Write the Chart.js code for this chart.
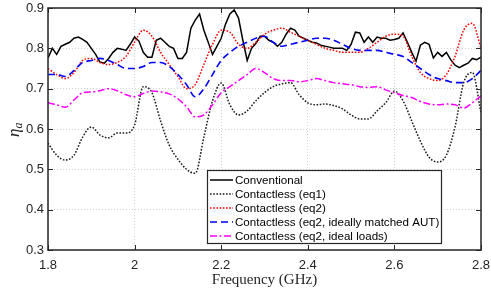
<!DOCTYPE html>
<html><head><meta charset="utf-8">
<script src="https://cdn.jsdelivr.net/npm/chart.js@4.4.1/dist/chart.umd.min.js"></script>
<style>html,body{margin:0;padding:0;background:#fff;}#wrap{width:491px;height:289px;}</style>
</head><body><div id="wrap"><canvas id="c" width="491" height="289"></canvas></div>
<script>
const freqFine = [1.80,1.81,1.82,1.83,1.84,1.85,1.86,1.87,1.88,1.89,1.90,1.91,1.92,1.93,1.94,1.95,1.96,1.97,1.98,1.99,
2.00,2.01,2.02,2.03,2.04,2.05,2.06,2.07,2.08,2.09,2.10,2.11,2.12,2.13,2.14,2.15,2.16,2.17,2.18,2.19,
2.20,2.21,2.22,2.23,2.24,2.25,2.26,2.27,2.28,2.29,2.30,2.31,2.32,2.33,2.34,2.35,2.36,2.37,2.38,2.39,
2.40,2.41,2.42,2.43,2.44,2.45,2.46,2.47,2.48,2.49,2.50,2.51,2.52,2.53,2.54,2.55,2.56,2.57,2.58,2.59,
2.60,2.61,2.62,2.63,2.64,2.65,2.66,2.67,2.68,2.69,2.70,2.71,2.72,2.73,2.74,2.75,2.76,2.77,2.78,2.79,2.80];
const freqCoarse = [1.80,1.82,1.84,1.86,1.88,1.90,1.92,1.94,1.96,1.98,2.00,2.02,2.04,2.06,2.08,2.10,2.12,2.14,2.16,2.18,
2.20,2.22,2.24,2.26,2.28,2.30,2.32,2.34,2.36,2.38,2.40,2.42,2.44,2.46,2.48,2.50,2.52,2.54,2.56,2.58,
2.60,2.62,2.64,2.66,2.68,2.70,2.72,2.74,2.76,2.78,2.80];

const conventional = [0.776,0.80,0.785,0.805,0.81,0.815,0.825,0.828,0.822,0.815,
0.80,0.785,0.766,0.763,0.775,0.79,0.80,0.798,0.795,0.81,
0.828,0.818,0.79,0.778,0.778,0.82,0.825,0.815,0.805,0.80,
0.775,0.775,0.79,0.85,0.87,0.885,0.845,0.815,0.785,0.805,
0.825,0.86,0.885,0.895,0.875,0.82,0.77,0.80,0.812,0.83,
0.83,0.82,0.815,0.805,0.815,0.835,0.85,0.845,0.83,0.825,
0.82,0.815,0.813,0.808,0.805,0.803,0.80,0.80,0.80,0.795,
0.81,0.84,0.838,0.815,0.828,0.815,0.828,0.825,0.825,0.82,
0.822,0.825,0.838,0.815,0.79,0.768,0.808,0.815,0.81,0.776,
0.79,0.78,0.79,0.772,0.758,0.752,0.758,0.763,0.775,0.772,0.778];

const contactlessEq1 = [0.565,0.535,0.523,0.535,0.58,0.605,0.585,0.578,0.59,0.59,
0.61,0.705,0.69,0.62,0.56,0.525,0.50,0.49,0.58,0.67,
0.714,0.66,0.635,0.645,0.67,0.69,0.705,0.712,0.715,0.685,
0.665,0.66,0.662,0.658,0.65,0.635,0.625,0.625,0.645,0.665,
0.694,0.67,0.62,0.57,0.53,0.518,0.535,0.605,0.715,0.74,0.64];

const contactlessEq2 = [0.75,0.735,0.725,0.74,0.77,0.775,0.765,0.76,0.765,0.78,
0.815,0.845,0.83,0.79,0.76,0.73,0.70,0.71,0.76,0.81,
0.845,0.84,0.81,0.80,0.815,0.835,0.845,0.85,0.84,0.83,
0.82,0.81,0.80,0.795,0.79,0.79,0.79,0.80,0.815,0.83,
0.835,0.83,0.78,0.74,0.725,0.72,0.735,0.78,0.845,0.862,0.80];

const contactlessMatched = [0.735,0.735,0.73,0.745,0.765,0.77,0.775,0.77,0.76,0.75,
0.75,0.755,0.765,0.765,0.755,0.735,0.71,0.68,0.70,0.735,
0.77,0.79,0.805,0.815,0.825,0.83,0.815,0.805,0.81,0.815,
0.82,0.825,0.825,0.82,0.81,0.80,0.795,0.795,0.795,0.79,
0.785,0.78,0.765,0.75,0.735,0.725,0.72,0.715,0.715,0.725,0.745];

const contactlessIdealLoads = [0.665,0.66,0.654,0.672,0.69,0.692,0.695,0.70,0.695,0.685,
0.68,0.688,0.694,0.692,0.687,0.675,0.655,0.63,0.635,0.66,
0.69,0.705,0.72,0.735,0.75,0.74,0.725,0.72,0.72,0.717,
0.72,0.725,0.72,0.715,0.712,0.71,0.705,0.703,0.705,0.697,
0.69,0.683,0.678,0.668,0.662,0.66,0.662,0.66,0.652,0.665,0.682];

const xTicks = [1.8,2.0,2.2,2.4,2.6,2.8];
const yTicks = [0.3,0.4,0.5,0.6,0.7,0.8,0.9];
const seriesNames = ['Conventional','Contactless (eq1)','Contactless (eq2)','Contactless (eq2, ideally matched AUT)','Contactless (eq2, ideal loads)'];
const xTitle = 'Frequency (GHz)';

function pts(xs, ys){ return xs.map((x,i)=>({x:x,y:ys[i]})); }

const styles = [
  {color:'#000000', dash:[], width:1.5},
  {color:'#1a1a1a', dash:[1.6,1.6], width:1.5},
  {color:'#ff0000', dash:[1.6,1.6], width:1.5},
  {color:'#0000ff', dash:[7,4], width:1.6},
  {color:'#ff00ff', dash:[7,2.5,2,2.5], width:1.5}
];
const seriesData = [
  pts(freqFine, conventional),
  pts(freqCoarse, contactlessEq1),
  pts(freqCoarse, contactlessEq2),
  pts(freqCoarse, contactlessMatched),
  pts(freqCoarse, contactlessIdealLoads)
];

const datasets = seriesData.map((d,i)=>({
  label: seriesNames[i],
  data: d,
  borderColor: styles[i].color,
  borderWidth: styles[i].width,
  borderDash: styles[i].dash,
  pointRadius: 0,
  fill: false,
  tension: i===0 ? 0 : 0.4,
  cubicInterpolationMode: i===0 ? 'default' : 'monotone',
  order: 5-i
}));

const axisColor = '#262626';

const framePlugin = {
  id:'frame',
  afterDraw(chart){
    const ctx = chart.ctx, a = chart.chartArea;
    const xs = chart.scales.x, ys = chart.scales.y;
    ctx.save();
    ctx.strokeStyle = axisColor;
    ctx.lineWidth = 1.5;
    ctx.setLineDash([]);
    ctx.strokeRect(a.left, a.top, a.right-a.left, a.bottom-a.top);
    ctx.lineWidth = 1;
    const tl = 5;
    ctx.beginPath();
    xTicks.forEach(v=>{
      const px = Math.round(xs.getPixelForValue(v))+0.5;
      ctx.moveTo(px, a.bottom); ctx.lineTo(px, a.bottom-tl);
      ctx.moveTo(px, a.top); ctx.lineTo(px, a.top+tl);
    });
    yTicks.forEach(v=>{
      const py = Math.round(ys.getPixelForValue(v))+0.5;
      ctx.moveTo(a.left, py); ctx.lineTo(a.left+tl, py);
      ctx.moveTo(a.right, py); ctx.lineTo(a.right-tl, py);
    });
    ctx.stroke();

    // y title eta_a
    ctx.save();
    ctx.translate(17, 130);
    ctx.rotate(-Math.PI/2);
    ctx.fillStyle = axisColor;
    ctx.textBaseline = 'alphabetic';
    ctx.textAlign = 'left';
    ctx.font = 'italic 17px "Liberation Serif", "DejaVu Serif", serif';
    ctx.fillText('η', -7, 2);
    const w = ctx.measureText('η').width;
    ctx.font = 'italic 12px "Liberation Serif", "DejaVu Serif", serif';
    ctx.fillText('a', -7 + w, 5);
    ctx.restore();

    // legend
    const lx = 207, ly = 170, lw = 234, lh = 73;
    ctx.fillStyle = '#ffffff';
    ctx.fillRect(lx, ly, lw, lh);
    ctx.strokeStyle = axisColor;
    ctx.lineWidth = 1.2;
    ctx.strokeRect(lx+0.5, ly+0.5, lw, lh);
    ctx.font = '11.6px "Liberation Sans", Arial, sans-serif';
    ctx.textBaseline = 'middle';
    ctx.textAlign = 'left';
    chart.data.datasets.forEach((ds,i)=>{
      const y = ly + 10 + i*14;
      ctx.save();
      ctx.strokeStyle = ds.borderColor;
      ctx.lineWidth = ds.borderWidth;
      ctx.setLineDash(ds.borderDash);
      ctx.beginPath();
      ctx.moveTo(lx+3, y); ctx.lineTo(lx+26, y);
      ctx.stroke();
      ctx.restore();
      ctx.fillStyle = '#000';
      ctx.fillText(ds.label, lx+28, y+0.5);
    });
    ctx.restore();
  }
};

new Chart(document.getElementById('c'), {
  type:'line',
  data:{datasets:datasets},
  options:{
    responsive:false,
    animation:false,
    devicePixelRatio:1,
    layout:{padding:{top:8,right:10,left:0,bottom:0}},
    plugins:{legend:{display:false},tooltip:{enabled:false}},
    scales:{
      x:{
        type:'linear', min:1.8, max:2.8,
        afterBuildTicks(s){ s.ticks = xTicks.map(v=>({value:v})); },
        afterFit(s){ s.height = 39; s.paddingLeft = 0; s.paddingRight = 0; },
        ticks:{color:axisColor, padding:8, maxRotation:0, autoSkip:false,
          font:{family:'"Liberation Sans", Arial, sans-serif', size:13},
          callback:(v)=>String(+Number(v).toFixed(1))},
        grid:{color:'#d4d4d4', lineWidth:1, drawTicks:false},
        border:{display:false, dash:[1,2]},
        title:{display:true, text:xTitle, color:axisColor, padding:{top:0,bottom:0},
          font:{family:'"Liberation Serif", "DejaVu Serif", serif', size:15}}
      },
      y:{
        type:'linear', min:0.3, max:0.9,
        afterBuildTicks(s){ s.ticks = yTicks.map(v=>({value:v})); },
        afterFit(s){ s.width = 48; s.paddingTop = 0; s.paddingBottom = 0; },
        ticks:{color:axisColor, padding:4, autoSkip:false,
          font:{family:'"Liberation Sans", Arial, sans-serif', size:13},
          callback:(v)=>Number(v).toFixed(1)},
        grid:{color:'#d4d4d4', lineWidth:1, drawTicks:false},
        border:{display:false, dash:[1,2]}
      }
    }
  },
  plugins:[framePlugin]
});
</script></body></html>
